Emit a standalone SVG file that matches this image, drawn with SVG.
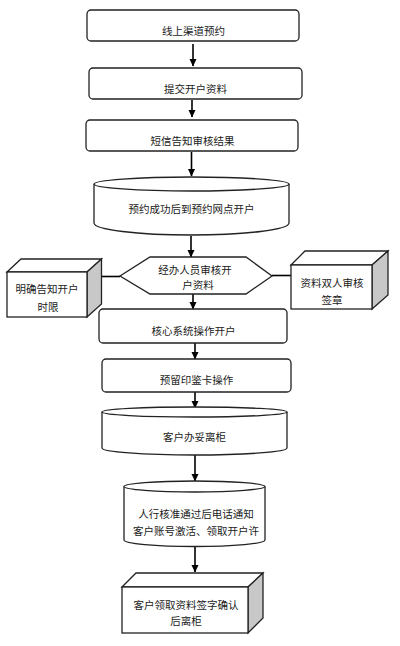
<svg xmlns="http://www.w3.org/2000/svg" width="400" height="646" viewBox="0 0 400 646">
<defs>
<marker id="ah" markerWidth="8" markerHeight="8" refX="7" refY="4" orient="auto" markerUnits="userSpaceOnUse">
<path d="M0,0.5 L7.5,4 L0,7.5 Z" fill="#000"/>
</marker>
<style>
.n{fill:#fff;stroke:#222;stroke-width:1.3}
.s{fill:#c8c8c8;stroke:#222;stroke-width:1.3}
.t{font-family:"Noto Sans CJK SC","Noto Sans",sans-serif;font-size:10.5px;fill:#1a1a1a;text-anchor:middle}
.c{stroke:#000;stroke-width:1.6;fill:none}
</style>
</defs>
<rect width="400" height="646" fill="#fff"/>
<g id="connectors">
<line class="c" x1="193" y1="44" x2="193" y2="66" marker-end="url(#ah)"/>
<line class="c" x1="192" y1="100" x2="192" y2="117" marker-end="url(#ah)"/>
<line class="c" x1="191.5" y1="152" x2="191.5" y2="176" marker-end="url(#ah)"/>
<line class="c" x1="191" y1="236" x2="191" y2="257" marker-end="url(#ah)"/>
<line class="c" x1="193" y1="294" x2="193" y2="309" marker-end="url(#ah)"/>
<line class="c" x1="195" y1="343" x2="195" y2="359" marker-end="url(#ah)"/>
<line class="c" x1="195" y1="392" x2="195" y2="408" marker-end="url(#ah)"/>
<line class="c" x1="195" y1="455" x2="195" y2="481" marker-end="url(#ah)"/>
<line class="c" x1="195" y1="546" x2="195" y2="572" marker-end="url(#ah)"/>
<line class="c" x1="101.5" y1="276.5" x2="120" y2="276.5"/>
<line class="c" x1="272" y1="275.5" x2="291" y2="275.5"/>
<line stroke="#000" stroke-width="1.2" x1="213" y1="282" x2="213" y2="289"/>
</g>
<g id="n1">
<rect class="n" x="87" y="10" width="212" height="31" rx="4"/>
<text class="t" x="193.5" y="35">线上渠道预约</text>
</g>
<g id="n2">
<rect class="n" x="89" y="68" width="213" height="31" rx="4"/>
<text class="t" x="195.5" y="93">提交开户资料</text>
</g>
<g id="n3">
<rect class="n" x="86" y="120" width="212" height="31" rx="4"/>
<text class="t" x="192.5" y="145">短信告知审核结果</text>
</g>
<g id="n4">
<path class="n" d="M94,184 L94,223 A97.5,12 0 0 0 289,223 L289,184"/>
<ellipse class="n" cx="191.5" cy="184" rx="97.5" ry="7"/>
<text class="t" x="191.5" y="213">预约成功后到预约网点开户</text>
</g>
<g id="n5">
<polygon class="n" points="120,276 150,257 246,257 272,276 246,294 150,294"/>
<text class="t" x="195" y="274">经办人员审核开</text>
<text class="t" x="198" y="289">户资料</text>
</g>
<g id="n6">
<polygon class="n" points="7,272 21,259 101.5,259 87,272"/>
<polygon class="s" points="87,272 101.5,259 101.5,304 87,317"/>
<rect class="n" x="7" y="272" width="80" height="45"/>
<text class="t" x="47" y="293">明确告知开户</text>
<text class="t" x="48" y="311">时限</text>
</g>
<g id="n7">
<polygon class="n" points="291,265 305,251 388,251 372,265"/>
<polygon class="s" points="372,265 388,251 388,295 372,309"/>
<rect class="n" x="291" y="265" width="81" height="44"/>
<text class="t" x="332" y="287">资料双人审核</text>
<text class="t" x="332" y="304">签章</text>
</g>
<g id="n8">
<rect class="n" x="99" y="309" width="188" height="34" rx="4"/>
<text class="t" x="193.5" y="335">核心系统操作开户</text>
</g>
<g id="n9">
<rect class="n" x="102" y="359" width="189" height="33" rx="4"/>
<text class="t" x="196.5" y="384">预留印鉴卡操作</text>
</g>
<g id="n10">
<path class="n" d="M102,412 L102,448 A92.5,7 0 0 0 287,448 L287,412"/>
<ellipse class="n" cx="194.5" cy="412" rx="92.5" ry="5"/>
<text class="t" x="194.5" y="441">客户办妥离柜</text>
</g>
<g id="n11">
<path class="n" d="M124,486.5 L124,540 A70.5,6.5 0 0 0 265,540 L265,486.5"/>
<ellipse class="n" cx="194.5" cy="486.5" rx="70.5" ry="5.5"/>
<text class="t" x="196" y="518">人行核准通过后电话通知</text>
<text class="t" x="196" y="535">客户账号激活、领取开户许</text>
</g>
<g id="n12">
<polygon class="n" points="122,587 136,573 263,573 248,587"/>
<polygon class="s" points="248,587 263,573 263,618 248,633"/>
<rect class="n" x="122" y="587" width="126" height="46"/>
<text class="t" x="186" y="609">客户领取资料签字确认</text>
<text class="t" x="186" y="625">后离柜</text>
</g>
</svg>
